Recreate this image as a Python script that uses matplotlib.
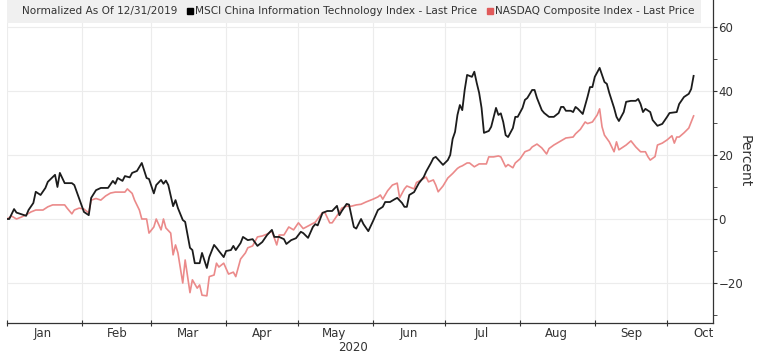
import pandas as pd
import matplotlib
matplotlib.use('Agg')
import matplotlib.pyplot as plt
import matplotlib.dates as mdates
from matplotlib.lines import Line2D
from matplotlib.ticker import MultipleLocator, NullFormatter

# days after 2020-01-01 and percent change
msci_days = [0, 1, 3, 4, 6, 8, 9, 11, 12, 14, 16, 17, 20, 21, 22, 24, 27, 28, 29, 31,
             32, 34, 35, 37, 39, 42, 44, 45, 46, 48, 49, 51, 52, 54, 56, 58, 59, 61, 62, 64,
             65, 66, 67, 69, 70, 71, 73, 74, 75, 76, 77, 78, 80, 81, 83, 84, 86, 87, 88, 90,
             91, 93, 94, 95, 97, 98, 100, 102, 104, 106, 108, 110, 111, 113, 115, 116, 118, 120, 122, 123,
             125, 127, 128, 129, 131, 133, 135, 137, 138, 139, 141, 142, 144, 145, 147, 148, 150, 152, 154, 156,
             157, 159, 161, 162, 164, 165, 166, 167, 169, 171, 173, 174, 176, 177, 178, 181, 183, 184, 185, 186,
             187, 188, 189, 190, 191, 193, 194, 195, 196, 197, 198, 200, 201, 203, 204, 205, 206, 207, 208, 210,
             211, 212, 214, 215, 216, 218, 219, 220, 222, 223, 225, 227, 229, 230, 231, 232, 234, 235, 236, 237,
             239, 241, 242, 243, 244, 246, 247, 248, 249, 250, 252, 253, 254, 256, 257, 259, 261, 262, 263, 264,
             265, 267, 268, 270, 272, 274, 275, 278, 279, 281, 283, 284, 285]
msci_pct = [0, 0, 3.1, 2, 1.5, 1, 2.8, 5, 8.5, 7.5, 9.7, 11.6, 13.8, 10, 14.4, 11.2, 11.2, 10.6, 8.5, 4.4,
            2.2, 1.2, 6.6, 9, 9.7, 9.7, 11.9, 11, 12.8, 11.9, 13.4, 13, 14.4, 15, 17.5, 12.8, 12.5, 8, 10.6, 12.2,
            11, 12, 10.6, 4, 5.9, 3.4, -0.3, -0.9, -5, -9, -9.7, -13.8, -13.8, -10.6, -15.3, -11.9, -8.1, -9, -10, -11.9,
            -10, -9.7, -8.4, -9.7, -7.5, -5.6, -6.6, -6.3, -8.4, -7.2, -5, -3.4, -5.6, -5.6, -6.3, -7.8, -6.6, -6, -4, -4.4,
            -5.9, -2.5, -1.6, -2, 1.9, 2.5, 2.5, 4.1, 1.2, 2.5, 4.7, 4.5, -2.5, -3, 0, -1.6, -3.8, -0.6, 2.8, 3.8,
            5.3, 5.3, 6.2, 6.6, 5, 3.8, 3.8, 7.5, 8.4, 11.2, 13.1, 14.8, 17.5, 19, 19.4, 16.9, 18.4, 20, 25, 27.2,
            32.5, 35.6, 34, 40.3, 45, 44.4, 46, 42.5, 39.4, 34.7, 26.9, 27.5, 28.8, 34.7, 32.5, 33, 30.3, 26.2, 25.6, 28.4,
            31.9, 31.9, 34.7, 37.2, 37.8, 40.3, 40.3, 37.8, 34, 33.1, 31.9, 31.9, 33.1, 35, 35, 33.8, 33.8, 33.4, 35, 34.4,
            32.8, 38.2, 41.2, 41.2, 44.4, 47.2, 45, 42.8, 42.2, 39.4, 34.7, 31.9, 30.6, 33.4, 36.6, 36.9, 36.9, 37.5, 35.9, 33.4,
            34.4, 33.4, 30.9, 29.1, 29.7, 31.9, 33.1, 33.4, 35.9, 38.1, 39.1, 40.6, 44.7]

nasdaq_days = [0, 2, 4, 6, 8, 10, 12, 15, 17, 19, 21, 24, 25, 27, 28, 30, 32, 34, 35, 37,
               39, 41, 43, 45, 47, 49, 50, 52, 53, 55, 56, 58, 59, 61, 62, 64, 65, 66, 68, 69,
               70, 71, 73, 74, 76, 77, 79, 80, 81, 83, 84, 86, 87, 88, 90, 92, 94, 95, 97, 99,
               100, 102, 104, 106, 108, 110, 112, 113, 115, 117, 119, 121, 123, 125, 128, 129, 131, 132, 134, 135,
               137, 139, 141, 143, 145, 147, 149, 152, 154, 155, 156, 158, 160, 162, 163, 165, 166, 169, 170, 172,
               174, 175, 177, 178, 179, 181, 183, 185, 187, 188, 189, 191, 192, 194, 196, 198, 199, 200, 202, 204,
               205, 207, 208, 210, 211, 213, 215, 217, 218, 220, 222, 224, 225, 227, 230, 231, 232, 235, 236, 238,
               240, 241, 243, 245, 246, 247, 248, 250, 252, 253, 254, 257, 259, 261, 263, 265, 266, 267, 269, 270,
               272, 274, 276, 277, 278, 279, 281, 283, 284, 285]
nasdaq_pct = [0, 0.9, 0, 0.6, 1.3, 2.2, 2.8, 2.8, 3.8, 4.4, 4.4, 4.4, 3.4, 1.6, 2.8, 3.4, 3.1, 1.9, 5.9, 6.4,
              5.9, 7.2, 8.1, 8.4, 8.4, 8.4, 9.4, 8, 5.9, 2.8, 0, 0, -4.4, -2.5, 0, -3.4, 0, -2.8, -4.4, -11.2,
              -8.1, -10.6, -20, -12.8, -23, -19, -21.6, -20.6, -23.8, -24, -18, -17.5, -13.8, -15, -13.8, -17.2, -16.6, -18, -12.5, -10.6,
              -9, -8.4, -5.6, -5.3, -4.7, -3.8, -8.1, -5, -5, -2.5, -3.4, -1.2, -3, -2.2, -1, 0, 2, 2, -1.2, -1.2,
              1, 3.4, 4, 4, 4.4, 4.6, 5.3, 6.2, 6.9, 7.5, 6.2, 8.8, 10.6, 11.2, 6.6, 9.4, 10.3, 9.4, 11.4, 12.2,
              13.1, 11.6, 12.2, 10.6, 8.5, 10.3, 12.8, 14.2, 15.8, 16.3, 16.6, 17.5, 17.5, 16.3, 17.2, 17.2, 17.2, 19.4, 19.4, 19.7,
              19.4, 16.3, 17, 16, 17.5, 18.8, 21, 21.6, 22.5, 23.4, 22.2, 20.3, 22, 23.1, 24.4, 24.8, 25.3, 25.6, 26.6, 28,
              30.3, 29.8, 30.3, 32.5, 34.4, 28.8, 26.2, 24.1, 21, 24.1, 21.6, 23.1, 24.4, 22.5, 21, 21, 19.5, 18.4, 19.5, 23.1,
              23.7, 24.7, 26, 23.7, 25.6, 25.6, 26.9, 28.4, 30.3, 32.2]

msci_label = 'MSCI China Information Technology Index - Last Price'
nasdaq_label = 'NASDAQ Composite Index - Last Price'
note_label = 'Normalized As Of 12/31/2019'

start = pd.Timestamp('2020-01-01')
msci_dates = start + pd.to_timedelta(msci_days, unit='D')
nasdaq_dates = start + pd.to_timedelta(nasdaq_days, unit='D')

black = '#1c1c1c'
red = '#eb8a8a'
text_col = '#333333'

fig = plt.figure(figsize=(7.6, 3.55), dpi=100)
ax = fig.add_axes([0.009, 0.09, 0.929, 0.91])

ax.plot(nasdaq_dates, nasdaq_pct, color=red, linewidth=1.2)
ax.plot(msci_dates, msci_pct, color=black, linewidth=1.3)

ax.set_xlim(start, start + pd.Timedelta(days=293))
ax.set_ylim(-32.5, 68.4)

# month boundaries carry the ticks and grid, labels sit mid-month
ax.xaxis.set_major_locator(mdates.MonthLocator())
ax.xaxis.set_major_formatter(NullFormatter())
ax.xaxis.set_minor_locator(mdates.MonthLocator(bymonthday=16))
ax.xaxis.set_minor_formatter(mdates.DateFormatter('%b'))
ax.tick_params(axis='x', which='major', direction='inout', length=4, color=text_col)
ax.tick_params(axis='x', which='minor', length=0, labelsize=8.5, labelcolor=text_col, pad=3)

ax.yaxis.tick_right()
ax.yaxis.set_label_position('right')
ax.yaxis.set_major_locator(MultipleLocator(20))
ax.yaxis.set_minor_locator(MultipleLocator(10))
ax.tick_params(axis='y', which='both', direction='out', length=3, color=text_col,
               labelsize=8.5, labelcolor=text_col, pad=1)
ax.set_ylabel('Percent', rotation=270, fontsize=10, color=text_col, labelpad=6)

ax.grid(True, which='major', color='#ececec', linewidth=0.8)
ax.set_axisbelow(True)
for side in ['top', 'left']:
    ax.spines[side].set_visible(False)
for side in ['bottom', 'right']:
    ax.spines[side].set_color(text_col)
    ax.spines[side].set_linewidth(0.9)

ax.text(0.49, -0.075, '2020', transform=ax.transAxes, ha='center', va='center',
        fontsize=8.5, color=text_col)

handles = [Line2D([], [], linestyle='none'),
           Line2D([], [], linestyle='none', marker='s', markersize=5, color='black'),
           Line2D([], [], linestyle='none', marker='s', markersize=5, color='#e05a5a')]
leg = ax.legend(handles, [note_label, msci_label, nasdaq_label], loc='upper left',
                ncol=3, fontsize=7.6, frameon=True, fancybox=False,
                handlelength=0.6, handletextpad=0.2, columnspacing=0.9,
                borderaxespad=0.0, borderpad=0.6, bbox_to_anchor=(0.0, 1.0))
leg.get_frame().set_facecolor('#f0f0f0')
leg.get_frame().set_edgecolor('none')
leg.get_frame().set_alpha(1)
for t in leg.get_texts():
    t.set_color(text_col)

fig.savefig('out.png', dpi=100)
